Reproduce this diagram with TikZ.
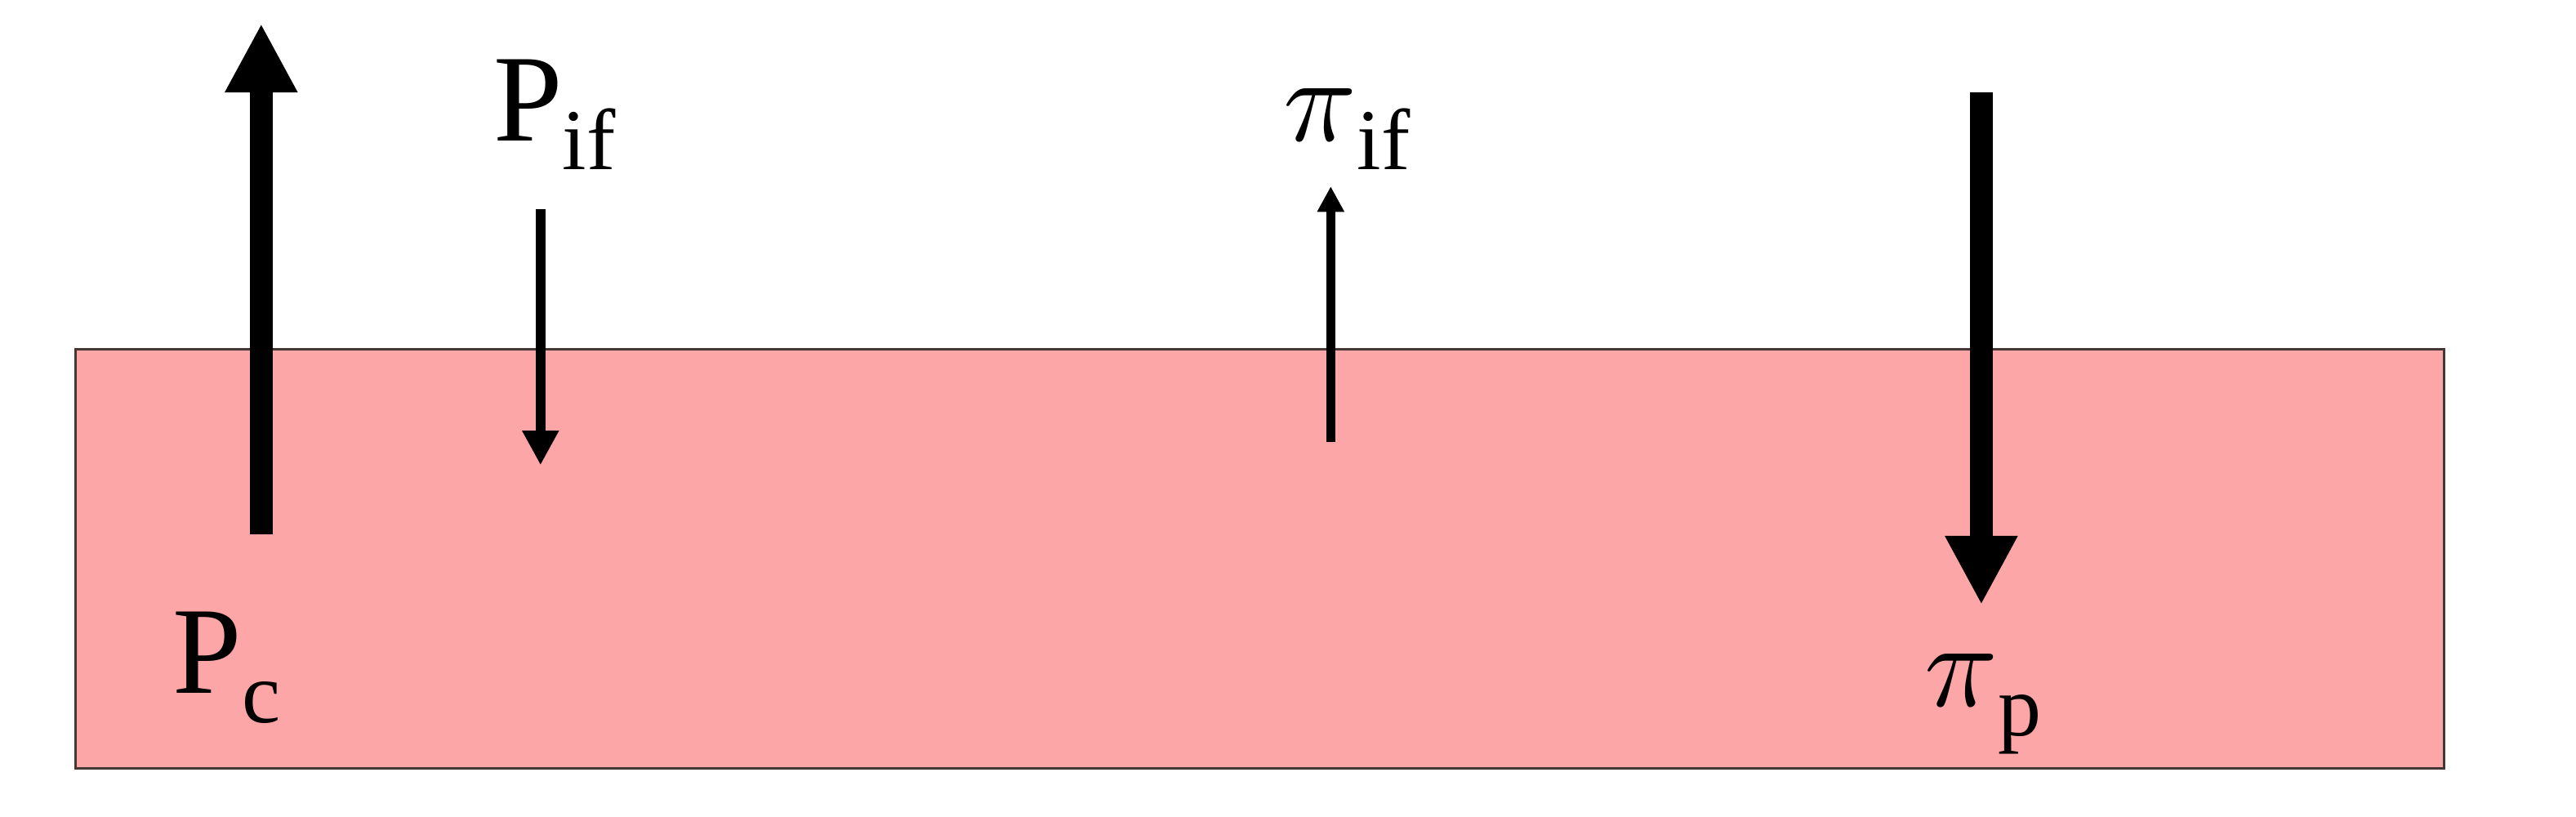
\documentclass[tikz,border=0pt]{standalone}
\usepackage{graphicx}
\usepackage{fontspec}
\setmainfont{Liberation Serif}
\usepackage{xcolor}
\usepackage{tikz}
\usetikzlibrary{arrows.meta,positioning}

\definecolor{slabfill}{RGB}{252,166,167}
\definecolor{slabedge}{RGB}{70,55,55}

\newcommand{\sublbl}[2]{\fontsize{43}{43}\selectfont #1\raisebox{-10pt}{\fontsize{30}{30}\selectfont #2}}
\newcommand{\bigpi}{{\normalsize\scalebox{4.2}{$\pi$}}}

\begin{document}
\begin{tikzpicture}[
  x=0.02cm, y=-0.02cm,
  slab/.style={draw=slabedge, line width=0.8pt, fill=slabfill, inner sep=0pt},
  sym/.style={anchor=base west, inner sep=0pt},
  heavyarrow/.style={-{Triangle[width=0.826cm,length=0.84cm]}, line width=7.8pt},
  thinarrow/.style={-{Triangle[width=0.42cm,length=0.42cm]}, line width=3.5pt},
  finearrow/.style={-{Triangle[width=0.31cm,length=0.31cm]}, line width=3pt},
]
\useasboundingbox (0,0) rectangle (1568,497.1);

% --- Slab ---
\node[slab, minimum width=28.84cm, minimum height=5.106cm] (slab) at (767,340) {};

% --- Arrow ends ---
\coordinate (pc-tail) at (159,325);
\coordinate (pc-tip) at (159,14.3);
\coordinate (pif-tail) at (329,127.5);
\coordinate (pif-tip) at (329,283);
\coordinate (piif-tail) at (810,269);
\coordinate (piif-tip) at (810,113.4);
\coordinate (pip-tail) at (1206,56.4);
\coordinate (pip-tip) at (1206,368);

% --- Arrows ---
\draw[heavyarrow] (pc-tail) -- (pc-tip);
\draw[thinarrow] (pif-tail) -- (pif-tip);
\draw[finearrow] (piif-tail) -- (piif-tip);
\draw[heavyarrow] (pip-tail) -- (pip-tip);

% --- Labels ---
\node[sym] (pc) at (105,422) {\sublbl{P}{c}};
\node[sym] (pif) at (300,85.6) {\sublbl{P}{if}};
\node[sym] (piif) at (781,85.6) {\sublbl{\bigpi}{if}};
\node[sym] (pip) at (1171,430) {\sublbl{\bigpi}{p}};

\end{tikzpicture}
\end{document}
